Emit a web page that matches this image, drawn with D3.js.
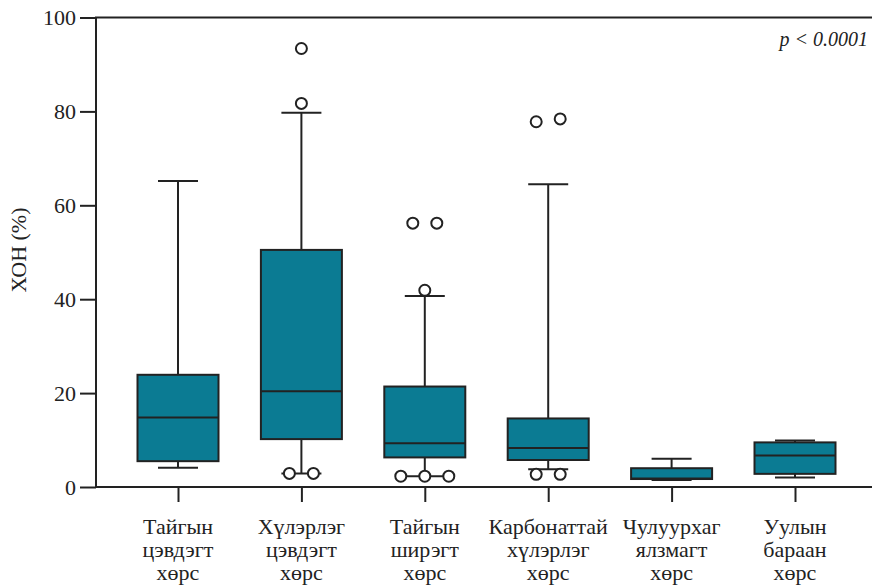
<!DOCTYPE html>
<html>
<head>
<meta charset="utf-8">
<script src="https://cdn.jsdelivr.net/npm/d3@7"></script>
<style>
  body { margin: 0; background: #fff; }
  #chart text { font-family: 'Liberation Serif', serif !important; }
</style>
</head>
<body>
<svg id="chart" width="872" height="586" font-family="Liberation Serif"></svg>
<script>
// soil types, each label broken in three lines
const categories = ["Тайгын цэвдэгт хөрс", "Хүлэрлэг цэвдэгт хөрс", "Тайгын ширэгт хөрс",
                    "Карбонаттай хүлэрлэг хөрс", "Чулуурхаг ялзмагт хөрс", "Уулын бараан хөрс"];
const labelLines = [["Тайгын", "цэвдэгт", "хөрс"], ["Хүлэрлэг", "цэвдэгт", "хөрс"], ["Тайгын", "ширэгт", "хөрс"],
                    ["Карбонаттай", "хүлэрлэг", "хөрс"], ["Чулуурхаг", "ялзмагт", "хөрс"], ["Уулын", "бараан", "хөрс"]];

// box statistics (%)
const whiskerLow  = [4.1, 2.9, 2.3, 3.8, 1.5, 2.0];
const q1          = [5.5, 10.2, 6.3, 5.75, 1.7, 2.8];
const median      = [14.8, 20.4, 9.3, 8.3, 1.8, 6.7];
const q3          = [23.9, 50.5, 21.4, 14.6, 4.0, 9.5];
const whiskerHigh = [65.2, 79.7, 40.7, 64.5, 6.0, 9.9];

// outliers per category
const outliers = [
  [],
  [93.4, 81.7, 2.9, 2.9],
  [56.2, 56.2, 41.9, 2.3, 2.3, 2.3],
  [77.8, 78.4, 2.7, 2.7],
  [],
  []
];

const yTicks = [0, 20, 40, 60, 80, 100];
const yTitle = "ХОН (%)";
const pText = "p < 0.0001";

const FONT = "'Liberation Serif', serif";
const svg = d3.select("#chart");
const mLeft = 96, mRight = 872, mTop = 17.5, mBottom = 487;

const x = d3.scalePoint().domain(categories).range([178, 795]);
const y = d3.scaleLinear().domain([0, 100]).range([mBottom, mTop]);
const boxW = 81, capW = 40;
const ink = "#222";
const fill = "#0b7b93";

function serif(sel, size) {
  return sel.style("font-family", FONT, "important").attr("font-size", size).attr("fill", ink);
}

// axes
const yAxis = svg.append("g")
    .attr("transform", `translate(${mLeft},0)`)
    .call(d3.axisLeft(y).tickValues(yTicks).tickSize(16).tickPadding(4).tickSizeOuter(0));
const xAxis = svg.append("g")
    .attr("transform", `translate(0,${mBottom})`)
    .call(d3.axisBottom(x).tickSize(15).tickFormat("").tickSizeOuter(0));
[yAxis, xAxis].forEach(g => {
  g.attr("font-family", null);
  g.selectAll("line").attr("stroke", ink).attr("stroke-width", 2);
  g.select(".domain").remove();
});
serif(yAxis.selectAll("text"), 22);

// frame lines
svg.append("line").attr("x1", mLeft).attr("x2", mLeft).attr("y1", mTop).attr("y2", mBottom + 1)
    .attr("stroke", ink).attr("stroke-width", 2);
svg.append("line").attr("x1", mLeft - 1).attr("x2", mRight).attr("y1", mBottom).attr("y2", mBottom)
    .attr("stroke", ink).attr("stroke-width", 2);
svg.append("line").attr("x1", mLeft - 1).attr("x2", mRight).attr("y1", mTop).attr("y2", mTop)
    .attr("stroke", ink).attr("stroke-width", 2);

// x labels
labelLines.forEach((lines, i) => {
  const t = serif(svg.append("text").attr("text-anchor", "middle"), 22);
  lines.forEach((s, j) => {
    t.append("tspan").attr("x", x(categories[i])).attr("y", 534 + j * 23).text(s);
  });
});

// y title
serif(svg.append("text"), 22)
    .attr("transform", `translate(26,250) rotate(-90)`)
    .attr("text-anchor", "middle")
    .text(yTitle);

// p-value
serif(svg.append("text"), 20)
    .attr("x", 868).attr("y", 46)
    .attr("text-anchor", "end")
    .attr("font-style", "italic")
    .text(pText);

// boxes
const boxes = svg.append("g").selectAll("g")
  .data(categories)
  .join("g")
  .attr("transform", d => `translate(${x(d)},0)`);

boxes.append("line")
    .attr("y1", (d, i) => y(whiskerHigh[i])).attr("y2", (d, i) => y(q3[i]))
    .attr("stroke", ink).attr("stroke-width", 2);
boxes.append("line")
    .attr("y1", (d, i) => y(q1[i])).attr("y2", (d, i) => y(whiskerLow[i]))
    .attr("stroke", ink).attr("stroke-width", 2);
boxes.append("line")
    .attr("x1", -capW / 2).attr("x2", capW / 2)
    .attr("y1", (d, i) => y(whiskerHigh[i])).attr("y2", (d, i) => y(whiskerHigh[i]))
    .attr("stroke", ink).attr("stroke-width", 2);
boxes.append("line")
    .attr("x1", -capW / 2).attr("x2", capW / 2)
    .attr("y1", (d, i) => y(whiskerLow[i])).attr("y2", (d, i) => y(whiskerLow[i]))
    .attr("stroke", ink).attr("stroke-width", 2);
boxes.append("rect")
    .attr("x", -boxW / 2).attr("width", boxW)
    .attr("y", (d, i) => y(q3[i]))
    .attr("height", (d, i) => y(q1[i]) - y(q3[i]))
    .attr("fill", fill).attr("stroke", ink).attr("stroke-width", 2);
boxes.append("line")
    .attr("x1", -boxW / 2).attr("x2", boxW / 2)
    .attr("y1", (d, i) => y(median[i])).attr("y2", (d, i) => y(median[i]))
    .attr("stroke", ink).attr("stroke-width", 2);

// outliers: values lying close together are spread side by side
const spread = 24;
boxes.each(function(d, i) {
  const groups = [];
  outliers[i].forEach(v => {
    const g = groups.find(g => Math.abs(g[0] - v) < 1);
    if (g) g.push(v); else groups.push([v]);
  });
  const pts = [];
  groups.forEach(g => g.forEach((v, k) => pts.push({ v, dx: (k - (g.length - 1) / 2) * spread })));
  d3.select(this).selectAll("circle")
    .data(pts)
    .join("circle")
    .attr("cx", p => p.dx)
    .attr("cy", p => y(p.v))
    .attr("r", 5.5)
    .attr("fill", "#fff")
    .attr("stroke", ink)
    .attr("stroke-width", 2);
});
</script>
</body>
</html>
